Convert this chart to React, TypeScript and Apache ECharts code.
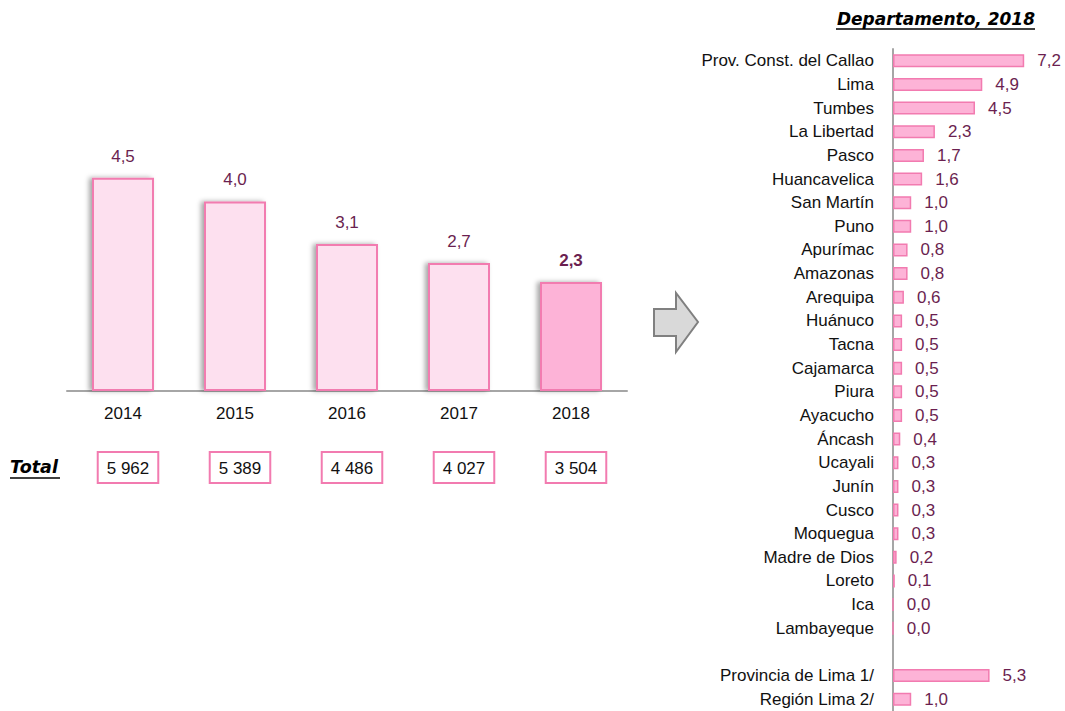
import React, { useEffect, useRef } from 'react';
import * as echarts from 'echarts';

const years = ['2014', '2015', '2016', '2017', '2018'];
const rates = [4.5, 4.0, 3.1, 2.7, 2.3];
const totals = ['5 962', '5 389', '4 486', '4 027', '3 504'];

const departments = [
  'Prov. Const. del Callao', 'Lima', 'Tumbes', 'La Libertad', 'Pasco', 'Huancavelica',
  'San Martín', 'Puno', 'Apurímac', 'Amazonas', 'Arequipa', 'Huánuco', 'Tacna',
  'Cajamarca', 'Piura', 'Ayacucho', 'Áncash', 'Ucayali', 'Junín', 'Cusco', 'Moquegua',
  'Madre de Dios', 'Loreto', 'Ica', 'Lambayeque', '', 'Provincia de Lima 1/', 'Región Lima 2/',
];
const deptRates: (number | null)[] = [
  7.2, 4.9, 4.5, 2.3, 1.7, 1.6, 1.0, 1.0, 0.8, 0.8, 0.6, 0.5, 0.5, 0.5, 0.5, 0.5, 0.4,
  0.3, 0.3, 0.3, 0.3, 0.2, 0.1, 0.0, 0.0, null, 5.3, 1.0,
];

const FONT = "'Liberation Sans', Arial, sans-serif";
const TITLE_FONT = "'DejaVu Sans', Verdana, sans-serif";
const FS = 17;
const VAL = '#6b1f50';
const PINK_BORDER = '#f27bb0';
const fmt = (v: number) => v.toFixed(1).replace('.', ',');

export default function App() {
  const ref = useRef<HTMLDivElement>(null);
  useEffect(() => {
    const chart = echarts.init(ref.current!, null, { renderer: 'svg' });
    chart.setOption({
      animation: false,
      backgroundColor: '#ffffff',
      grid: [
        { left: 67, top: 83, width: 560, height: 308 },
        { left: 72, top: 440, width: 560, height: 10 },
        { left: 893, top: 49, width: 164, height: 664 },
      ],
      xAxis: [
        {
          gridIndex: 0, type: 'category', data: years,
          axisLine: { lineStyle: { color: '#a6a6a6', width: 2 } },
          axisTick: { show: false },
          axisLabel: { color: '#111', fontSize: FS, fontFamily: FONT, margin: 14 },
        },
        {
          gridIndex: 1, type: 'category', data: totals,
          axisLine: { show: false }, axisTick: { show: false },
          axisLabel: {
            margin: 3, color: '#111', fontSize: FS, fontFamily: FONT, lineHeight: 20,
            borderColor: PINK_BORDER, borderWidth: 2, padding: [5, 8, 4, 8], backgroundColor: '#fff',
          },
        },
        { gridIndex: 2, type: 'value', min: 0, max: 9, show: false },
      ],
      yAxis: [
        { gridIndex: 0, type: 'value', min: 0, max: 6.5, show: false },
        { gridIndex: 1, type: 'value', min: 0, max: 1, show: false },
        {
          gridIndex: 2, type: 'category', data: departments, inverse: true,
          axisLine: { lineStyle: { color: '#a6a6a6', width: 2 } },
          axisTick: { show: false },
          axisLabel: { color: '#111', fontSize: FS, fontFamily: FONT, margin: 19, interval: 0 },
        },
      ],
      series: [
        {
          type: 'bar', xAxisIndex: 0, yAxisIndex: 0, barWidth: 62,
          data: rates.map((v, i) => i === rates.length - 1
            ? { value: v, itemStyle: { color: '#fdb3d7' }, label: { fontWeight: 'bold' } }
            : { value: v }),
          itemStyle: {
            color: '#fde0ef', borderColor: PINK_BORDER, borderWidth: 2,
            shadowColor: 'rgba(0,0,0,0.35)', shadowBlur: 5, shadowOffsetX: -3, shadowOffsetY: 0,
          },
          label: {
            show: true, position: 'top', distance: 13, color: VAL, fontSize: FS, fontFamily: FONT,
            formatter: (p: any) => fmt(p.value),
          },
        },
        {
          type: 'bar', xAxisIndex: 2, yAxisIndex: 2, barWidth: 13,
          data: deptRates,
          itemStyle: { color: '#fdb3d7', borderColor: PINK_BORDER, borderWidth: 1.5 },
          label: {
            show: true, position: 'right', distance: 13, color: VAL, fontSize: FS, fontFamily: FONT,
            formatter: (p: any) => (p.value == null ? '' : fmt(p.value)),
          },
        },
      ],
      graphic: [
        {
          type: 'text', x: 1035, y: 19,
          style: {
            text: 'Departamento, 2018', align: 'right', verticalAlign: 'middle',
            font: `italic bold 17px ${TITLE_FONT}`, fill: '#000',
          },
        },
        { type: 'line', shape: { x1: 836, y1: 29, x2: 1035, y2: 29 }, style: { stroke: '#000', lineWidth: 1.5 } },
        {
          type: 'text', x: 10, y: 467,
          style: {
            text: 'Total', align: 'left', verticalAlign: 'middle',
            font: `italic bold 17.5px ${TITLE_FONT}`, fill: '#000',
          },
        },
        { type: 'line', shape: { x1: 10, y1: 478, x2: 60, y2: 478 }, style: { stroke: '#000', lineWidth: 1.5 } },
        {
          type: 'polygon',
          shape: { points: [[654, 309], [676, 309], [676, 293], [698, 322], [676, 352], [676, 336], [654, 336]] },
          style: { fill: '#d9d9d9', stroke: '#808080', lineWidth: 2 },
        },
      ],
    });
    return () => chart.dispose();
  }, []);
  return (
    <div
      ref={ref}
      style={{ position: 'fixed', left: 0, top: 0, width: 1065, height: 711, background: '#fff' }}
    />
  );
}
